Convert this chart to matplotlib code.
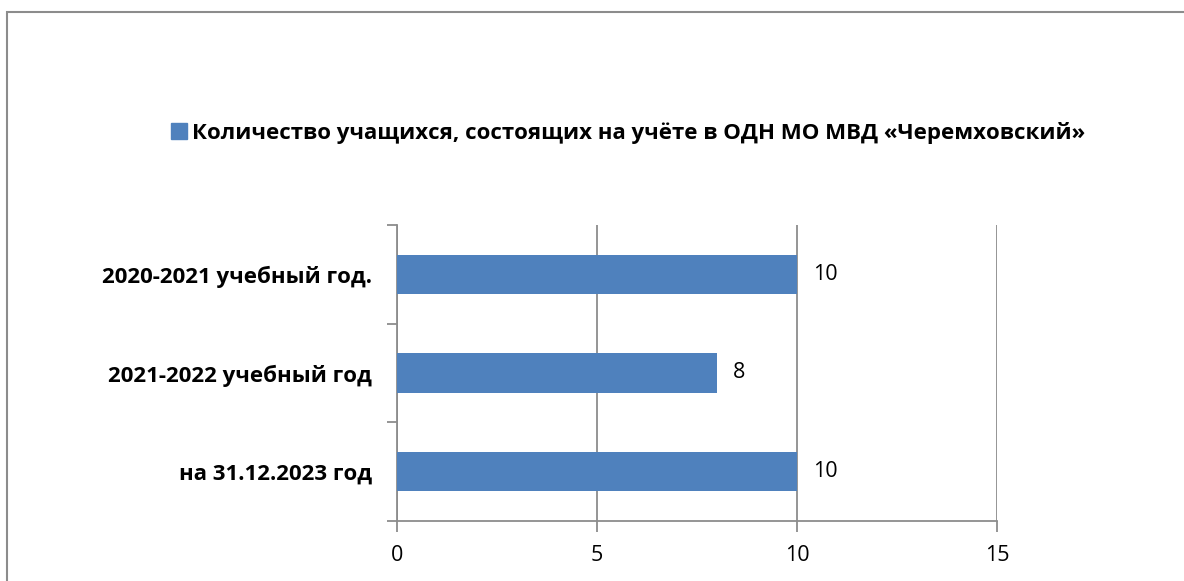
import matplotlib
matplotlib.use('Agg')
import matplotlib.pyplot as plt
from matplotlib.patches import Rectangle
from matplotlib.lines import Line2D

# данные
categories = ['2020-2021 учебный год.', '2021-2022 учебный год', 'на 31.12.2023 год']
values = [10, 8, 10]
xticks = [0, 5, 10, 15]
series_name = 'Количество учащихся, состоящих на учёте в ОДН МО МВД «Черемховский»'

bar_color = '#4F81BD'
grid_color = '#8C8C8C'
plt.rcParams['font.family'] = ['Open Sans', 'DejaVu Sans']

fig = plt.figure(figsize=(11.84, 5.81), dpi=100)
ax = fig.add_axes([397/1184, 1-521/581, 600/1184, 296/581])

ypos = list(range(len(categories)))
ax.barh(ypos, values, height=0.4, color=bar_color, zorder=3)
ax.set_ylim(len(categories)-0.5, -0.5)
ax.set_xlim(0, 15)

# подписи значений
for y, v in zip(ypos, values):
    ax.text(v + 0.4, y, str(v), va='center', ha='left', fontsize=15.5)

ax.set_xticks(xticks)
ax.set_xticklabels([str(t) for t in xticks], fontsize=15.5)
ax.set_yticks(ypos)
ax.set_yticklabels(categories, fontsize=16, fontweight='bold')
ax.set_yticks([y - 0.5 for y in ypos] + [len(categories)-0.5], minor=True)
ax.tick_params(axis='y', which='major', length=0, pad=18)
ax.tick_params(axis='y', which='minor', length=7, color=grid_color, width=1.3)
ax.tick_params(axis='x', length=8, color=grid_color, width=1.3, pad=9)

ax.grid(axis='x', color=grid_color, linewidth=1.3, zorder=0)
for s in ['top', 'right']:
    ax.spines[s].set_visible(False)
for s in ['left', 'bottom']:
    ax.spines[s].set_color(grid_color)
    ax.spines[s].set_linewidth(1.3)

# легенда
handle = Line2D([], [], marker='s', linestyle='none', markersize=11,
                markerfacecolor=bar_color, markeredgecolor=bar_color)
fig.legend([handle], [series_name], loc='center', bbox_to_anchor=(628/1184, 1-133/581),
           frameon=False, handletextpad=0.25, handlelength=0.7,
           prop={'size': 16, 'weight': 'bold'})

# рамка
fig.patches.append(Rectangle((7/1184, -0.05), 1.1, 1-12/581+0.05, transform=fig.transFigure,
                             fill=False, edgecolor=grid_color, linewidth=1.5))

fig.savefig('out.png', dpi=100)
